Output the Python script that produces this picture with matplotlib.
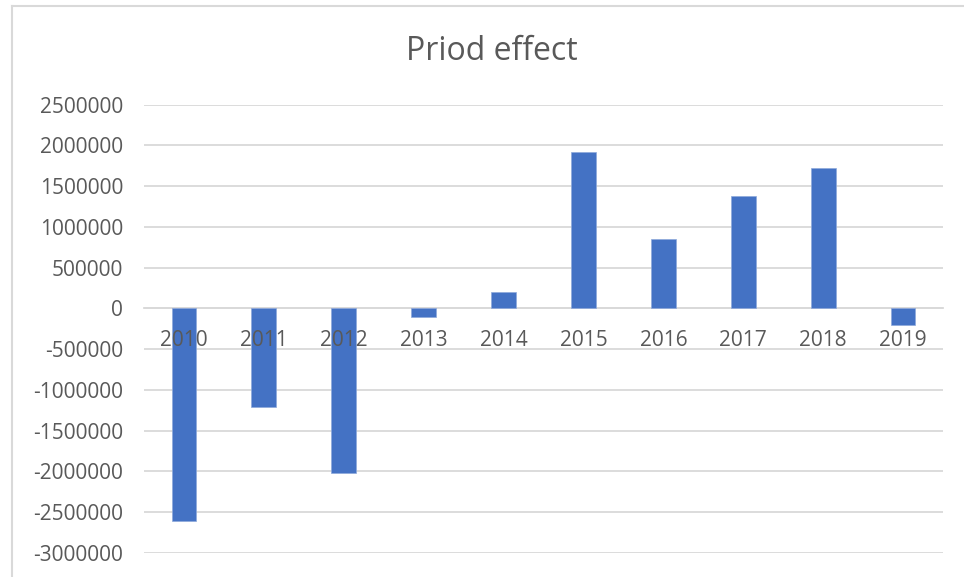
import numpy as np
import matplotlib.pyplot as plt
from matplotlib.lines import Line2D

# data
years = ['2010', '2011', '2012', '2013', '2014', '2015', '2016', '2017', '2018', '2019']
effect = [-2613000, -1212000, -2027000, -110000, 200000, 1916000, 848000, 1383000, 1727000, -205000]
yticks = list(range(-3000000, 2500001, 500000))

plt.rcParams['font.family'] = ['Open Sans', 'DejaVu Sans']
txt = '#595959'

fig = plt.figure(figsize=(9.64, 5.77), dpi=100)
ax = fig.add_axes([144/964, 1 - 552.7/577, (943-144)/964, (552.7-104.7)/577])
ax.set_axisbelow(True)

x = np.arange(len(years))
ax.bar(x, effect, width=0.31, color='#4472C4', edgecolor='#8EA9DB', linewidth=0.5, zorder=3)

ax.set_xlim(-0.5, len(years) - 0.5)
ax.set_ylim(-3000000, 2500000)
ax.set_yticks(yticks)
ax.set_yticklabels([str(v) for v in yticks])
ax.set_xticks([])
ax.grid(axis='y', color='#D9D9D9', linewidth=1.3)

for s in ['top', 'right', 'left']:
    ax.spines[s].set_visible(False)
ax.spines['bottom'].set_position(('data', 0))
ax.spines['bottom'].set_color('#D9D9D9')
ax.spines['bottom'].set_linewidth(1.3)
ax.spines['bottom'].set_zorder(1)

ax.tick_params(axis='y', length=0, labelsize=15, colors=txt, pad=15)

# category labels sit on the zero line, drawn over the bars
for i, yr in enumerate(years):
    ax.annotate(yr, (i, 0), xytext=(0, -22), textcoords='offset pixels',
                ha='center', va='top', fontsize=15, color=txt, zorder=5)

fig.text(492/964, 1 - 51/577, 'Priod effect', ha='center', va='center', fontsize=23, color=txt)

# chart border (only top and left are in view)
fig.add_artist(Line2D([12/964, 12/964], [0, 1 - 6/577], color='#D9D9D9', linewidth=1.5))
fig.add_artist(Line2D([12/964, 1], [1 - 6/577, 1 - 6/577], color='#D9D9D9', linewidth=1.5))

fig.savefig('out.png', dpi=100)
